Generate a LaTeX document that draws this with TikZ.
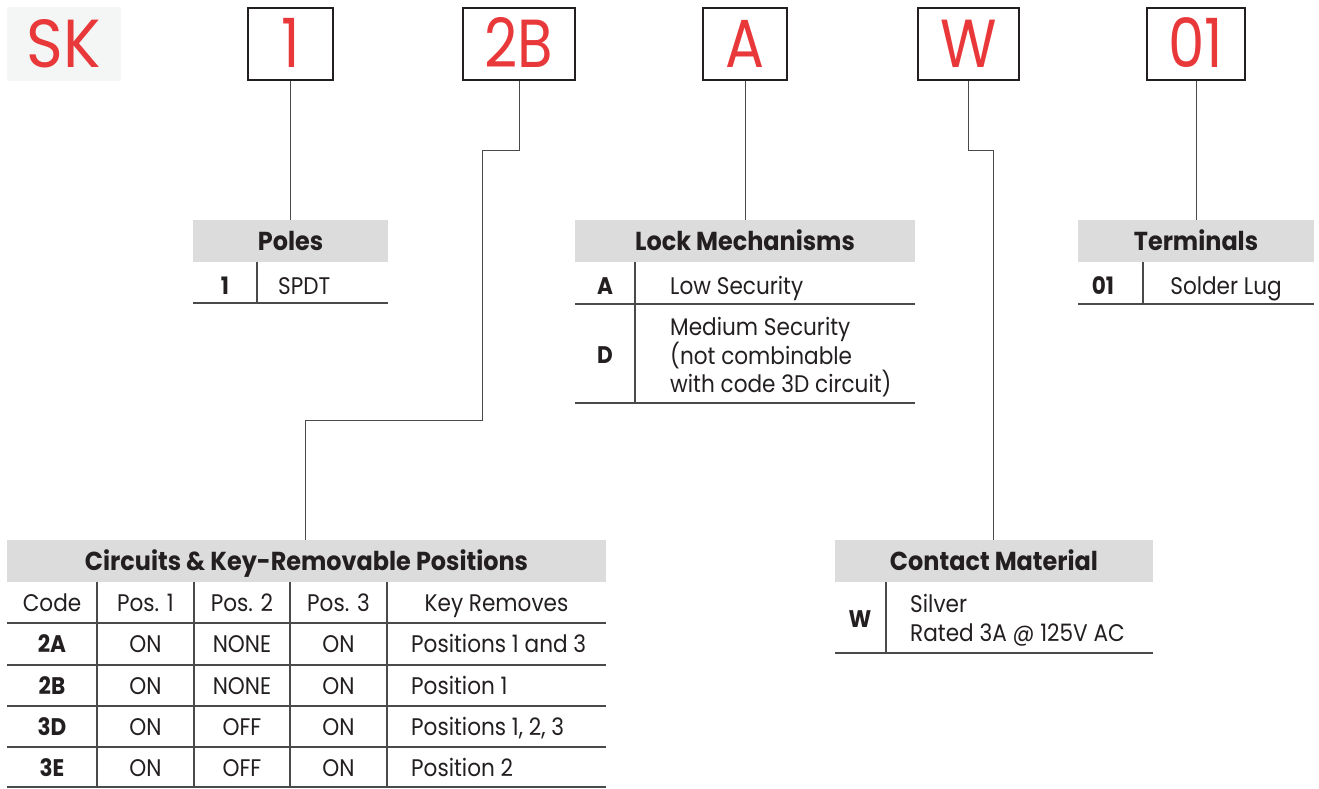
\documentclass[tikz,border=0pt]{standalone}
\usepackage{fontspec}
\setmainfont{Poppins}
\newfontfamily\bodyf[FakeStretch=0.9]{Poppins}
\newfontfamily\hdrf[FakeStretch=0.92]{Poppins}
\newfontfamily\codef[FakeStretch=0.85]{Poppins}
\newfontfamily\skf[FakeStretch=0.92]{Poppins}
\definecolor{redc}{HTML}{E8383A}
\definecolor{boxc}{HTML}{231F20}
\definecolor{hdrc}{HTML}{DCDCDC}
\definecolor{skbg}{HTML}{F4F6F5}
\definecolor{linec}{HTML}{4A4A4A}
\begin{document}
\begin{tikzpicture}[x=1pt,y=-1pt,
  codebox/.style={draw=boxc,line width=2.5pt,minimum height=72pt,inner sep=0pt,text=redc,text height=47.4pt,text depth=0pt,font=\codef\fontsize{68}{68}\selectfont},
  hdr/.style={fill=hdrc,minimum height=42pt,inner sep=0pt,text height=18.1pt,text depth=0pt,font=\hdrf\bfseries\fontsize{26}{26}\selectfont,text=boxc},
  basecell/.style={inner sep=0pt,font=\bodyf\fontsize{24}{28}\selectfont,text=boxc},
  cell/.style={basecell,text height=16.7pt,text depth=0pt},
  bcell/.style={cell,font=\bodyf\bfseries\fontsize{24}{28}\selectfont},
  lcell/.style={cell,anchor=west,align=left},
  mcell/.style={basecell,anchor=west,align=left},
  conn/.style={draw=linec,line width=1pt},
  tline/.style={draw=linec,line width=1.4pt}]
\useasboundingbox (0,0) rectangle (1319,788);
% SK
\node[fill=skbg,minimum width=114pt,minimum height=74pt,inner sep=0pt,text=redc,text height=47.4pt,text depth=0pt,font=\skf\fontsize{68}{68}\selectfont] (sk) at (64,44) {SK};
% code boxes
\node[codebox,minimum width=85pt] (b1) at (290.5,44) {1};
\node[codebox,minimum width=112pt] (b2) at (519,44) {2B};
\node[codebox,minimum width=84pt] (b3) at (745,44) {A};
\node[codebox,minimum width=101pt] (b4) at (968.5,44) {W};
\node[codebox,minimum width=98pt] (b5) at (1196,44) {01};
% Poles
\node[hdr,minimum width=195pt] (poles) at (290.5,241) {Poles};
\node[bcell] (p1) at (225,286) {1};
\node[lcell] (p2) at (278,286) {SPDT};
\draw[tline] (257,262) -- (257,303);
\draw[tline] (193,303) -- (388,303);
% Lock Mechanisms
\node[hdr,minimum width=340pt] (lock) at (745,241) {Lock Mechanisms};
\node[bcell] (la) at (605,286) {A};
\node[lcell] (lat) at (670,286) {Low Security};
\node[bcell] (ld) at (605,355) {D};
\node[mcell] (ldt) at (670,357) {Medium Security\\(not combinable\\with code 3D circuit)};
\draw[tline] (635,262) -- (635,403);
\draw[tline] (575,304) -- (915,304);
\draw[tline] (575,403) -- (915,403);
% Terminals
\node[hdr,minimum width=236pt] (term) at (1196,241) {Terminals};
\node[bcell] (t1) at (1103,286) {01};
\node[cell] (t2) at (1226,286) {Solder Lug};
\draw[tline] (1143,262) -- (1143,304);
\draw[tline] (1078,304) -- (1314,304);
% Contact Material
\node[hdr,minimum width=318pt] (cm) at (994,561) {Contact Material};
\node[bcell] (w1) at (860,619) {W};
\node[mcell,font=\bodyf\fontsize{24}{29}\selectfont] (w2) at (910,620) {Silver\\Rated 3A @ 125V AC};
\draw[tline] (886,582) -- (886,653);
\draw[tline] (835,653) -- (1153,653);
% Circuits
\node[hdr,minimum width=599pt] (circ) at (306.5,561) {Circuits \& Key-Removable Positions};
\node[cell] (h1) at (52,603.5) {Code};
\node[cell] (h2) at (145.5,603.5) {Pos. 1};
\node[cell] (h3) at (242,603.5) {Pos. 2};
\node[cell] (h4) at (338.5,603.5) {Pos. 3};
\node[cell] (h5) at (496.5,603.5) {Key Removes};
\node[bcell] (r1a) at (52,644.5) {2A};
\node[cell] (r1b) at (145.5,644.5) {ON};
\node[cell] (r1c) at (242,644.5) {NONE};
\node[cell] (r1d) at (338.5,644.5) {ON};
\node[lcell] (r1e) at (411,644.5) {Positions 1 and 3};
\node[bcell] (r2a) at (52,686) {2B};
\node[cell] (r2b) at (145.5,686) {ON};
\node[cell] (r2c) at (242,686) {NONE};
\node[cell] (r2d) at (338.5,686) {ON};
\node[lcell] (r2e) at (411,686) {Position 1};
\node[bcell] (r3a) at (52,727) {3D};
\node[cell] (r3b) at (145.5,727) {ON};
\node[cell] (r3c) at (242,727) {OFF};
\node[cell] (r3d) at (338.5,727) {ON};
\node[lcell] (r3e) at (411,727) {Positions 1, 2, 3};
\node[bcell] (r4a) at (52,768) {3E};
\node[cell] (r4b) at (145.5,768) {ON};
\node[cell] (r4c) at (242,768) {OFF};
\node[cell] (r4d) at (338.5,768) {ON};
\node[lcell] (r4e) at (411,768) {Position 2};
\foreach \xx in {97,194,290,387} \draw[tline] (\xx,582) -- (\xx,788);
\foreach \yy in {623,665,706,747,787} \draw[tline] (7,\yy) -- (606,\yy);
% connectors
\coordinate (k1) at (482,150);
\coordinate (k2) at (305,420);
\coordinate (k3) at (993,150);
\draw[conn] (b1.south) -- (poles.north);
\draw[conn] (b3.south) -- (lock.north);
\draw[conn] (b5.south) -- (term.north);
\draw[conn] (b2.south) |- (k1) |- (k2) -- (k2 |- circ.north);
\draw[conn] (b4.south) |- (k3) -- (k3 |- cm.north);
\end{tikzpicture}
\end{document}
